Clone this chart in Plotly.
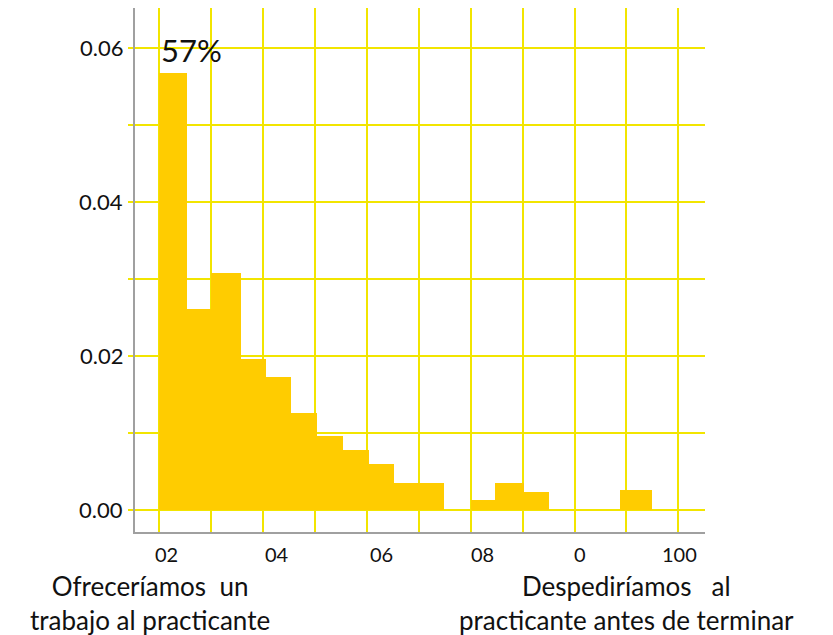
import plotly.graph_objects as go

# ---- data ----
bin_left = [0, 5.4, 10, 15.7, 20.5, 25.3, 30.3, 35.4, 40.4, 45.2, 60.0, 64.7, 70.3, 88.8]
bin_right = [5.4, 10, 15.7, 20.5, 25.3, 30.3, 35.4, 40.4, 45.2, 54.9, 64.7, 70.3, 75.1, 94.9]
density = [0.0567, 0.0261, 0.0307, 0.0196, 0.0172, 0.0125, 0.0095, 0.0078, 0.0059, 0.0035,
           0.0013, 0.0035, 0.0023, 0.0025]

x_tick_pos = [1.33, 22.68, 42.76, 62.22, 80.96, 100.2]
x_tick_text = ["02", "04", "06", "08", "0", "100"]
y_tick_vals = [0.00, 0.02, 0.04, 0.06]
y_tick_text = ["0.00", "0.02", "0.04", "0.06"]

peak_label = "57%"
left_caption = "Ofreceríamos\u00a0\u00a0un<br>trabajo al practicante"
right_caption = "Despediríamos\u00a0\u00a0\u00a0al<br>practicante antes de terminar"

BAR = "#FFCC00"
GRID = "#F2E500"
AXIS = "#A0A0A0"
FONT = "Lato"
TXT = "#111111"

centers = [(a + b) / 2 for a, b in zip(bin_left, bin_right)]
widths = [b - a for a, b in zip(bin_left, bin_right)]

fig = go.Figure()
fig.add_trace(go.Bar(
    x=centers, y=density, width=widths,
    marker=dict(color=BAR, line=dict(width=0)),
    hoverinfo="skip", showlegend=False,
))

annotations = []
for pos, txt in zip(x_tick_pos, x_tick_text):
    annotations.append(dict(
        x=pos, y=-0.0419, xref="x", yref="paper", text=txt, showarrow=False,
        xanchor="center", yanchor="middle",
        font=dict(family=FONT, size=20, color=TXT),
    ))

annotations.append(dict(
    x=bin_left[0], y=density[0], xref="x", yref="y", text=peak_label,
    showarrow=False, xanchor="left", yanchor="bottom", xshift=0, yshift=2,
    font=dict(family=FONT, size=31, color=TXT),
))
annotations.append(dict(
    x=0.026, y=-0.0695, xref="paper", yref="paper", text=left_caption,
    showarrow=False, xanchor="center", yanchor="top", align="center",
    font=dict(family=FONT, size=26, color=TXT),
))
annotations.append(dict(
    x=0.863, y=-0.0695, xref="paper", yref="paper", text=right_caption,
    showarrow=False, xanchor="center", yanchor="top", align="center",
    font=dict(family=FONT, size=26, color=TXT),
))

for v, t in zip(y_tick_vals, y_tick_text):
    annotations.append(dict(
        x=0, xref="paper", y=v, yref="y", text=t, showarrow=False,
        xanchor="right", yanchor="middle", xshift=-10,
        font=dict(family=FONT, size=22, color=TXT),
    ))

# page body has an 8px margin, so the figure is 8px smaller than the window
fig.update_layout(
    width=825, height=627,
    margin=dict(l=127, r=128, t=0, b=103),
    paper_bgcolor="white", plot_bgcolor="white",
    font=dict(family=FONT, size=20, color=TXT),
    bargap=0,
    annotations=annotations,
    xaxis=dict(
        range=[-4.68, 105.14], tick0=0, dtick=10, tickmode="linear",
        showticklabels=False, ticks="",
        showgrid=True, gridcolor=GRID, gridwidth=2, zeroline=False,
        showline=True, linecolor=AXIS, linewidth=2,
    ),
    yaxis=dict(
        range=[-0.00291, 0.06517], tick0=0, dtick=0.01, tickmode="linear",
        showgrid=True, gridcolor=GRID, gridwidth=2, zeroline=False,
        showline=True, linecolor=AXIS, linewidth=2,
        ticks="outside", ticklen=5, tickwidth=2, tickcolor=GRID,
        showticklabels=False,
    ),
)

fig.write_html("out.html")
